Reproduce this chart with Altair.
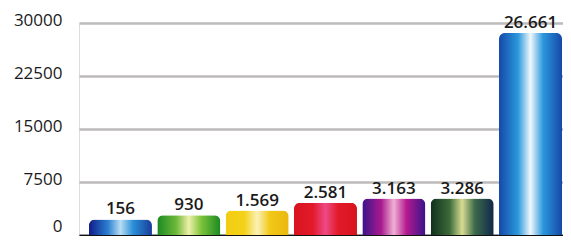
import altair as alt
import pandas as pd

categories = ["A", "B", "C", "D", "E", "F", "G"]
bar_heights = [2200, 2800, 3450, 4550, 5150, 5150, 28600]
value_labels = ["156", "930", "1.569", "2.581", "3.163", "3.286", "26.661"]
y_ticks = [0, 7500, 15000, 22500, 30000]

palettes = [
    ["#101c88", "#2a7fd0", "#b8ddf3", "#2a8fd8", "#1a3c9a"],
    ["#1a8a22", "#6cb83a", "#eef0a8", "#7cc23a", "#1a8a22"],
    ["#f2cc10", "#f4d21a", "#fbf1b8", "#f2c818", "#eab810"],
    ["#d8141e", "#e21a2a", "#ee4a86", "#e21a2a", "#d8141e"],
    ["#3a148a", "#a81a8e", "#f0b0d4", "#b41a8e", "#3a148a"],
    ["#10301c", "#3c6a3a", "#d8dc90", "#3c6a4a", "#10284a"],
    ["#1648a8", "#2a98dc", "#f0f7fc", "#2a98dc", "#1648a8"],
]

df = pd.DataFrame({"cat": categories, "h": bar_heights, "lab": value_labels})

xs = alt.X("cat:N", sort=categories,
           scale=alt.Scale(paddingInner=0.078, paddingOuter=0.08, align=0.91),
           axis=alt.Axis(title=None, labels=False, ticks=False, domain=True,
                         domainColor="#111111", domainWidth=1.3, grid=False))
ys = alt.Y("h:Q", scale=alt.Scale(domain=[0, 30000], nice=False),
           axis=alt.Axis(title=None, values=y_ticks, format="d", ticks=False, domain=False,
                         grid=True, gridColor="#bdbaba", gridWidth=2.5,
                         labelFont="Open Sans", labelFontSize=17, labelColor="#1a1a1a",
                         labelPadding=17,
                         labelOffset=alt.ExprRef("datum.value == 0 ? -9 : -3")))

layers = []
for i, c in enumerate(categories):
    p = palettes[i]
    grad = alt.Gradient(gradient="linear", x1=0, x2=1, y1=0, y2=0,
                        stops=[alt.GradientStop(color=p[0], offset=0),
                               alt.GradientStop(color=p[1], offset=0.3),
                               alt.GradientStop(color=p[2], offset=0.5),
                               alt.GradientStop(color=p[3], offset=0.7),
                               alt.GradientStop(color=p[4], offset=1)])
    layers.append(
        alt.Chart(df).transform_filter(alt.datum.cat == c)
        .mark_bar(fill=grad, cornerRadiusTopLeft=6, cornerRadiusTopRight=6)
        .encode(x=xs, y=ys)
    )

text = alt.Chart(df).mark_text(dy=-5, font="Open Sans", fontSize=17, fontWeight=600,
                               color="#1a1a1a", baseline="alphabetic").encode(
    x=alt.X("cat:N", sort=categories), y=alt.Y("h:Q"), text="lab:N")

chart = alt.layer(*layers, text).properties(
    width=484, height=212,
    autosize=alt.AutoSizeParams(type="none"),
    padding={"left": 71, "top": 15, "right": 0, "bottom": 1},
).configure_view(stroke=None).configure(background="white")

chart.save("out.html", embed_options={"renderer": "svg", "actions": False})
